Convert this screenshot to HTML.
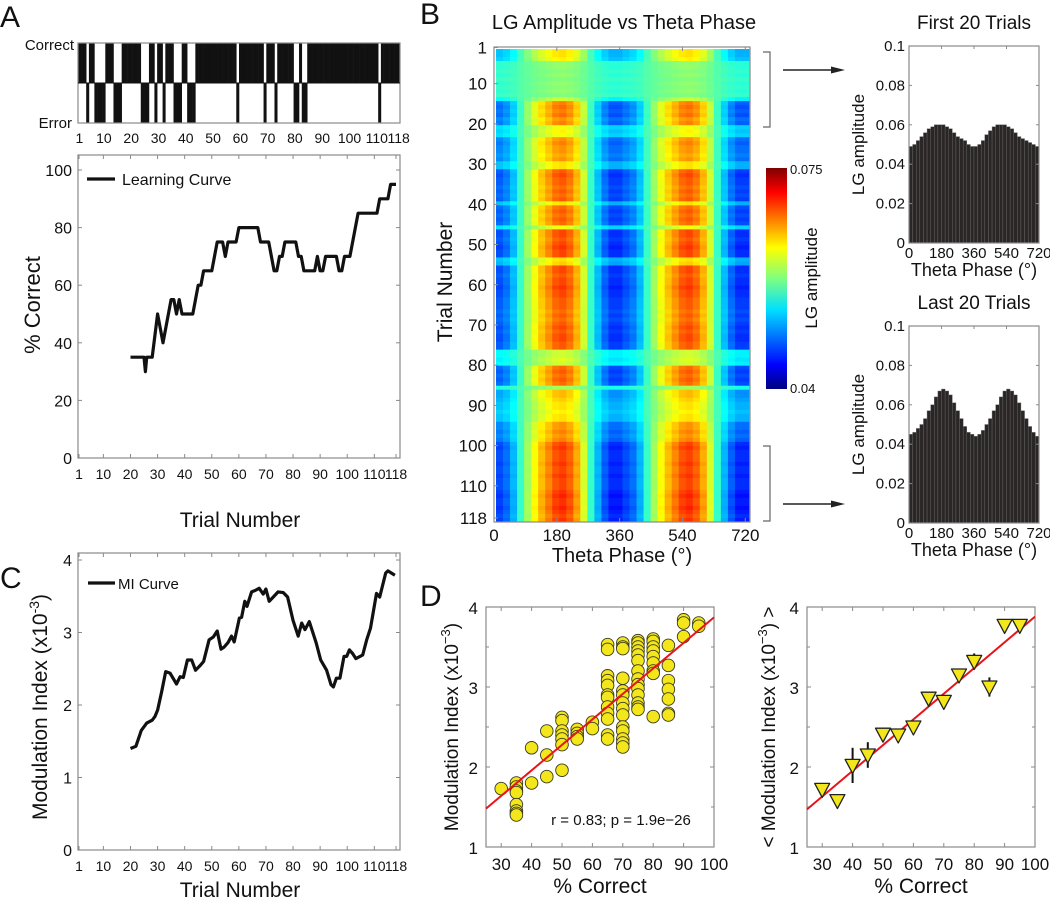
<!DOCTYPE html>
<html><head><meta charset="utf-8"><style>
html,body{margin:0;padding:0;background:#fff;}
svg{display:block;font-family:"Liberation Sans",sans-serif;}
.n{font-family:"Liberation Sans Narrow","Liberation Sans",sans-serif;}
</style></head><body>
<svg id="fig" xmlns="http://www.w3.org/2000/svg" width="1050" height="900" viewBox="0 0 1050 900">
<defs>
<linearGradient id="jet" x1="0" y1="1" x2="0" y2="0">
<stop offset="0" stop-color="#00007f"/><stop offset="0.11" stop-color="#0000ff"/><stop offset="0.125" stop-color="#0010ff"/>
<stop offset="0.36" stop-color="#00e0ff"/><stop offset="0.5" stop-color="#7fff7f"/><stop offset="0.64" stop-color="#ffff00"/>
<stop offset="0.89" stop-color="#ff0000"/><stop offset="1" stop-color="#7f0000"/>
</linearGradient>
</defs>
<g id="gA"></g>
<g id="gB"></g>
<g id="gC"></g>
<g id="gD"></g>
<g id="gT"></g>
</svg>
<script>
// ---------- data ----------
const correctRanges = [[1,3],[5,6],[11,13],[17,20],[21,23],[27,28],[30,31],[33,35],[39,40],[44,56],[57,58],[60,68],[70,72],[74,79],[82,82],[85,97],[98,110],[112,118]];
const learnTrials = [20,25,25.5,26,28,30,32,35,36,37,38,39,43,45,46,47,50,52,54,55,56,59,60,67,68,71,73,74,75,76,77,81,82,83,84,88,89,90,91,92,96,97,98,99,101,104,111,112,115,116,118];
const learnPct    = [35,35,30,35,35,50,40,55,55,50,55,50,50,60,60,65,65,75,75,70,75,75,80,80,75,75,65,65,70,70,75,75,70,70,65,65,70,65,65,70,70,65,65,70,70,85,85,90,90,95,95];
const miTrials = [20,22,24,26,28,29,30,31.5,33,34.6,37,38.3,39.5,41,42.6,44,45.6,47,49,50.6,52,53.4,54.6,56,57.3,58.3,60.2,61,62.2,63,64.7,66,67.5,69,70,71.2,72.7,74.5,76.4,78,80,81.9,83.2,84.4,86,88.5,90.2,92.4,94,94.9,96,97.3,98.8,99.8,100.8,102,103.2,105.7,107.2,108.6,110.8,112,114.2,115,117.6];
const miValues = [1.40,1.43,1.65,1.75,1.79,1.84,1.93,2.18,2.46,2.44,2.29,2.39,2.38,2.62,2.62,2.48,2.54,2.60,2.90,2.94,3.02,2.77,2.80,2.86,2.95,2.87,3.20,3.21,3.43,3.36,3.56,3.58,3.61,3.53,3.60,3.43,3.49,3.56,3.55,3.49,3.17,2.95,3.13,3.04,3.15,2.86,2.62,2.48,2.28,2.25,2.37,2.37,2.67,2.67,2.76,2.71,2.64,2.69,2.90,3.06,3.54,3.49,3.82,3.85,3.79];
// heatmap: per-trial modulation depth (trials 1..118) and per-phase profile (18 bins of 20°)
const trialDepth = [0.5,0.5,0.45,0.15,0.15,0.12,0.15,0.1,0.15,0.12,0.15,0.1,0.3,0.75,0.8,0.75,0.8,0.7,0.75,0.4,0.45,0.4,0.7,0.75,0.7,0.7,0.65,0.7,0.5,0.5,0.85,0.9,0.85,0.85,0.8,0.85,0.8,0.85,0.5,0.8,0.85,0.8,0.85,0.8,0.4,0.9,0.9,0.85,0.9,0.95,0.9,0.9,0.5,0.55,0.9,0.9,0.85,0.9,0.9,0.95,0.9,0.9,0.85,0.85,0.85,0.8,0.85,0.8,0.85,0.9,0.85,0.9,0.9,0.85,0.85,0.3,0.3,0.35,0.3,0.8,0.85,0.8,0.85,0.8,0.2,0.6,0.6,0.55,0.5,0.5,0.45,0.5,0.5,0.7,0.7,0.75,0.7,0.75,0.9,0.95,0.9,0.9,0.9,0.95,0.9,0.9,0.95,0.9,0.9,0.9,0.95,1.0,0.95,0.95,1.0,0.95,0.9,0.95];
const phaseProfile = [-0.75,-0.65,-0.45,-0.1,0.2,0.45,0.65,0.8,0.95,1.0,0.9,0.7,0.35,-0.1,-0.45,-0.7,-0.85,-0.85];
const histFirst = [0.049,0.050,0.052,0.054,0.056,0.058,0.059,0.060,0.060,0.060,0.059,0.058,0.056,0.054,0.053,0.052,0.050,0.049,0.049,0.050,0.052,0.055,0.057,0.059,0.060,0.060,0.060,0.059,0.058,0.056,0.054,0.053,0.052,0.051,0.050,0.049];
const histLast = [0.045,0.046,0.048,0.050,0.053,0.057,0.060,0.064,0.067,0.068,0.067,0.065,0.061,0.057,0.053,0.049,0.046,0.045,0.044,0.045,0.047,0.050,0.053,0.057,0.060,0.064,0.067,0.068,0.067,0.065,0.061,0.057,0.053,0.049,0.046,0.044];
const scatterPct = [30,35,35,35,35,35,35,35,35,40,40,45,45,45,50,50,50,50,50,50,50,55,55,55,55,60,60,65,65,65,65,65,65,65,65,65,65,65,65,70,70,70,70,70,70,70,70,70,70,70,70,70,70,75,75,75,75,75,75,75,75,75,75,75,75,75,75,80,80,80,80,80,80,80,80,80,85,85,85,85,85,85,85,90,90,90,95,95];
const scatterMI = [1.73,1.80,1.75,1.70,1.68,1.53,1.45,1.42,1.40,2.24,1.80,2.45,2.15,1.88,2.62,2.58,2.45,2.40,2.35,2.28,1.96,2.47,2.42,2.38,2.35,2.56,2.48,3.53,3.47,3.14,3.08,3.02,2.90,2.87,2.75,2.67,2.60,2.40,2.35,3.55,3.50,3.48,3.11,2.95,2.90,2.80,2.73,2.65,2.50,2.45,2.35,2.30,2.25,3.58,3.55,3.50,3.45,3.40,3.33,3.20,3.10,3.03,2.98,2.90,2.80,2.75,2.72,3.60,3.57,3.50,3.45,3.38,3.30,3.20,3.17,2.63,3.52,3.27,3.08,2.97,2.85,2.67,2.65,3.84,3.80,3.63,3.80,3.76];
const meanPct = [30,35,40,45,50,55,60,65,70,75,80,85,90,95];
const meanMI  = [1.72,1.58,2.02,2.15,2.41,2.40,2.50,2.86,2.82,3.15,3.32,3.00,3.77,3.77];
const meanErr = [0.02,0.03,0.22,0.16,0.05,0.02,0.02,0.08,0.08,0.05,0.10,0.12,0.02,0.02];
const fitLeft = [1.48,3.87];   // MI at 25% and 100%
const fitRight = [1.47,3.88];
const trialTicks = [1,10,20,30,40,50,60,70,80,90,100,110,118];

// ---------- helpers ----------
const NS='http://www.w3.org/2000/svg';
function mk(parent,tag,attrs,txt){const e=document.createElementNS(NS,tag);for(const k in attrs)e.setAttribute(k,attrs[k]);if(txt!==undefined)e.textContent=txt;parent.appendChild(e);return e;}
const gA=document.getElementById('gA'),gB=document.getElementById('gB'),gC=document.getElementById('gC'),gD=document.getElementById('gD'),gT=document.getElementById('gT');
function jet(v){v=Math.max(0,Math.min(1,v));
 const r=Math.max(0,Math.min(1,1.5-Math.abs(4*v-3))),g=Math.max(0,Math.min(1,1.5-Math.abs(4*v-2))),b=Math.max(0,Math.min(1,1.5-Math.abs(4*v-1)));
 return 'rgb('+Math.round(r*255)+','+Math.round(g*255)+','+Math.round(b*255)+')';}
function frame(g,x0,y0,x1,y1,nm){const r=mk(g,'rect',{x:x0,y:y0,width:x1-x0,height:y1-y0,fill:'none',stroke:'#8a8a8a','stroke-width':1.2});
 
 }
function text(g,x,y,s,size,anchor,cls,nm,rot){const a={x:x,y:y,'font-size':size,'text-anchor':anchor||'middle',fill:'#111'};if(cls)a['class']=cls;if(rot)a.transform='rotate(-90 '+x+' '+y+')';const t=mk(g,'text',a,s);
 
 return t;}
function tick(g,x1,y1,x2,y2){const l=mk(g,'line',{x1:x1,y1:y1,x2:x2,y2:y2,stroke:'#8a8a8a','stroke-width':1});
 
 }

// ---------- Panel A ----------
text(gT,0,27,'A',30,'start',null,'panel-label-a');
const rx0=78,rx1=400,rcw=(rx1-rx0)/118;
const rxT=t=>rx0+(t-0.5)*rcw;
const isCorrect=t=>correctRanges.some(r=>t>=r[0]&&t<=r[1]);
for(let t=1;t<=118;t++){const c=isCorrect(t);
 const r=mk(gA,'rect',{x:rx0+(t-1)*rcw,y:c?43:83,width:rcw+0.3,height:40,fill:'#111'});
 
 }
frame(gA,rx0,43,rx1,123,'outcome-raster-frame');
mk(gA,'line',{x1:rx0,y1:83,x2:rx1,y2:83,stroke:'#111','stroke-width':1});
text(gA,74,50,'Correct',15,'end','n','raster-correct-label');
text(gA,72,128,'Error',15,'end','n','raster-error-label');
trialTicks.forEach(t=>{text(gA,rxT(t),143,String(t),14,'middle','n','raster-x-tick-label');});

const xA=t=>79+(t-1)*(396-79)/117;
const yA=v=>458-v*2.88;
frame(gA,78,155,400,458,'learning-curve-axes');
[0,20,40,60,80,100].forEach(v=>{tick(gA,78,yA(v),82,yA(v));tick(gA,400,yA(v),396,yA(v));text(gA,72,yA(v)+6,String(v),16,'end','n','learning-y-tick-label');});
trialTicks.forEach(t=>{tick(gA,xA(t),458,xA(t),454);tick(gA,xA(t),155,xA(t),159);text(gA,xA(t),479,String(t),14,'middle','n','learning-x-tick-label');});
let d='';learnTrials.forEach((t,i)=>{d+=(i?'L':'M')+xA(t).toFixed(1)+' '+yA(learnPct[i]).toFixed(1);});
const lc=mk(gA,'path',{d:d,fill:'none',stroke:'#111','stroke-width':3.2,'stroke-linejoin':'round'});


const lgA=mk(gA,'line',{x1:87,y1:179,x2:115,y2:179,stroke:'#111','stroke-width':3.2});


text(gA,122,185,'Learning Curve',16,'start','n','learning-legend-label');
text(gA,40,305,'% Correct',22,'middle',null,'learning-y-axis-title',true);
text(gA,240,527,'Trial Number',21,'middle',null,'learning-x-axis-title');

// ---------- Panel B ----------
text(gT,420,24,'B',30,'start',null,'panel-label-b');
text(gB,624,29,'LG Amplitude vs Theta Phase',20,'middle',null,'heatmap-title');
const hx0=496,hx1=749,hy0=49,hy1=522;
const cw=(hx1-hx0)/36,ch=(hy1-hy0)/118;
const lo=0.04,hi=0.075;
for(let t=0;t<118;t++){for(let c=0;c<36;c++){
 const v=0.0562+trialDepth[t]*0.0135*phaseProfile[c%18];
 const r=mk(gB,'rect',{x:(hx0+c*cw).toFixed(2),y:(hy0+t*ch).toFixed(2),width:(cw+0.4).toFixed(2),height:(ch+0.4).toFixed(2),fill:jet((v-lo)/(hi-lo))});
 
 }}
frame(gB,494,47,750,522,'heatmap-axes');
const xB=deg=>494+deg*0.349;
const yB=t=>47.5+(t-1)*(518-47.5)/117;
[0,180,360,540,720].forEach(v=>{tick(gB,xB(v),522,xB(v),518);tick(gB,xB(v),47,xB(v),51);text(gB,xB(v),541,String(v),17,'middle',null,'heatmap-x-tick-label');});
[1,10,20,30,40,50,60,70,80,90,100,110,118].forEach(t=>{tick(gB,494,yB(t),498,yB(t));text(gB,487,yB(t)+6,String(t),17,'end',null,'heatmap-y-tick-label');});
text(gB,622,562,'Theta Phase (°)',20,'middle',null,'heatmap-x-axis-title');
text(gB,452,282,'Trial Number',21,'middle',null,'heatmap-y-axis-title',true);
const cb=mk(gB,'rect',{x:766,y:168,width:21,height:221,fill:'url(#jet)'});


text(gB,790,174,'0.075',13,'start',null,'colorbar-max-label');
text(gB,790,393,'0.04',13,'start',null,'colorbar-min-label');
text(gB,817,278,'LG amplitude',17,'middle',null,'colorbar-title',true);
// brackets & arrows
function bracket(y0,y1,ya,nm){const p=mk(gB,'path',{d:'M763 '+y0+'H770V'+y1+'H763',fill:'none',stroke:'#666','stroke-width':1.2});
 
 
 const a=mk(gB,'line',{x1:783,y1:ya,x2:834,y2:ya,stroke:'#222','stroke-width':1.6});
 
 
 const h=mk(gB,'path',{d:'M845 '+ya+'L831 '+(ya-3.5)+'L831 '+(ya+3.5)+'Z',fill:'#222'});
 
 }
bracket(52,127,70,'first-20-bracket');
bracket(446,521,504,'last-20-bracket');
// histograms
function hist(vals,top,bot,title,nm){const hx0=909,hx1=1039,bw=(hx1-hx0)/36;const yv=v=>bot-v/0.1*(bot-top);
 vals.forEach((v,i)=>{const r=mk(gB,'rect',{x:(hx0+i*bw).toFixed(2),y:yv(v).toFixed(2),width:bw.toFixed(2),height:(bot-yv(v)).toFixed(2),fill:'#2a2626',stroke:'#6a6a6a','stroke-width':0.4});
  
  });
 frame(gB,hx0,top,hx1,bot,nm+'-axes');
 [0,0.02,0.04,0.06,0.08,0.1].forEach(v=>{tick(gB,hx0,yv(v),hx0+3,yv(v));tick(gB,hx1,yv(v),hx1-3,yv(v));text(gB,hx0-4,yv(v)+5,v===0?'0':String(v),15,'end',null,nm+'-y-tick-label');});
 [0,180,360,540,720].forEach(v=>{const x=hx0+v/720*(hx1-hx0);tick(gB,x,top,x,top+3);text(gB,x,bot+15,String(v),15,'middle',null,nm+'-x-tick-label');});
 text(gB,974,bot+33,'Theta Phase (°)',18,'middle',null,nm+'-x-axis-title');
 text(gB,974,top-17,title,19,'middle',null,nm+'-title');
 text(gB,864,(top+bot)/2,'LG amplitude',17,'middle',null,nm+'-y-axis-title',true);}
hist(histFirst,46,243,'First 20 Trials','first-20-histogram');
hist(histLast,326,523,'Last 20 Trials','last-20-histogram');

// ---------- Panel C ----------
text(gT,0,588,'C',30,'start',null,'panel-label-c');
const yC=v=>850-v*72.5;
frame(gC,78,553,400,850,'mi-curve-axes');
[0,1,2,3,4].forEach(v=>{tick(gC,78,yC(v),82,yC(v));tick(gC,400,yC(v),396,yC(v));text(gC,72,yC(v)+6,String(v),16,'end','n','mi-y-tick-label');});
trialTicks.forEach(t=>{tick(gC,xA(t),850,xA(t),846);tick(gC,xA(t),553,xA(t),557);text(gC,xA(t),871,String(t),14,'middle','n','mi-x-tick-label');});
d='';miTrials.forEach((t,i)=>{d+=(i?'L':'M')+xA(t).toFixed(1)+' '+yC(miValues[i]).toFixed(1);});
const mc=mk(gC,'path',{d:d,fill:'none',stroke:'#111','stroke-width':3.2,'stroke-linejoin':'round'});


const lgC=mk(gC,'line',{x1:88,y1:583,x2:115,y2:583,stroke:'#111','stroke-width':3.2});


text(gC,118,589,'MI Curve',15,'start','n','mi-legend-label');
const ylab=text(gC,47,707,'Modulation Index (x10',21,'middle',null,'mi-y-axis-title',true);
const sp=mk(ylab,'tspan',{dy:-8,'font-size':14},'-3');
const sp2=mk(ylab,'tspan',{dy:8},')');
text(gC,240,897,'Trial Number',21,'middle',null,'mi-x-axis-title');

// ---------- Panel D ----------
text(gT,420,606,'D',30,'start',null,'panel-label-d');
const yD=v=>847-(v-1)*80;
function scatterAxes(x0,nm){const xD=p=>x0+(p-25)*(228/75);
 frame(gD,x0,607,x0+228,847,nm+'-axes');
 [1,2,3,4].forEach(v=>{tick(gD,x0,yD(v),x0+4,yD(v));tick(gD,x0+228,yD(v),x0+224,yD(v));text(gD,x0-8,yD(v)+7,String(v),17,'end','n',nm+'-y-tick-label');});
 [1.5,2.5,3.5].forEach(v=>{tick(gD,x0,yD(v),x0+3,yD(v));tick(gD,x0+228,yD(v),x0+225,yD(v));});
 [30,40,50,60,70,80,90,100].forEach(p=>{tick(gD,xD(p),847,xD(p),843);tick(gD,xD(p),607,xD(p),611);text(gD,xD(p),870,String(p),17,'middle','n',nm+'-x-tick-label');});
 text(gD,x0+114,893,'% Correct',21,'middle','n',nm+'-x-axis-title');
 return xD;}
const xDL=scatterAxes(486,'scatter');
scatterPct.forEach((p,i)=>{const c=mk(gD,'circle',{cx:xDL(p).toFixed(1),cy:yD(scatterMI[i]).toFixed(1),r:6.3,fill:'#f3e61a',stroke:'#3a3a20','stroke-width':0.9});
 
 });
const fl=mk(gD,'line',{x1:xDL(25),y1:yD(fitLeft[0]),x2:xDL(100),y2:yD(fitLeft[1]),stroke:'#e8141a','stroke-width':2});


text(gD,621,825,'r = 0.83; p = 1.9e−26',15,'middle','n','correlation-annotation');
const yl1=text(gD,458,727,'Modulation Index (x10',19,'middle','n','scatter-y-axis-title',true);
mk(yl1,'tspan',{dy:-8,'font-size':13},'−3');mk(yl1,'tspan',{dy:8},')');

const xDR=scatterAxes(807,'mean');
const fr=mk(gD,'line',{x1:xDR(25),y1:yD(fitRight[0]),x2:xDR(100),y2:yD(fitRight[1]),stroke:'#e8141a','stroke-width':2});


meanPct.forEach((p,i)=>{const x=xDR(p),y=yD(meanMI[i]),e=meanErr[i]*80;
 const eb=mk(gD,'line',{x1:x,y1:y-e,x2:x,y2:y+e,stroke:'#111','stroke-width':2});
 
 
 const tr=mk(gD,'path',{d:'M'+(x-7.5)+' '+(y-6)+'L'+(x+7.5)+' '+(y-6)+'L'+x+' '+(y+8)+'Z',fill:'#f3e61a',stroke:'#222','stroke-width':1.3,'stroke-linejoin':'round'});
 
 });
const yl2=text(gD,775,727,'< Modulation Index (x10',19,'middle','n','mean-y-axis-title',true);
mk(yl2,'tspan',{dy:-8,'font-size':13},'−3');mk(yl2,'tspan',{dy:8},') >');
</script>
</body></html>
